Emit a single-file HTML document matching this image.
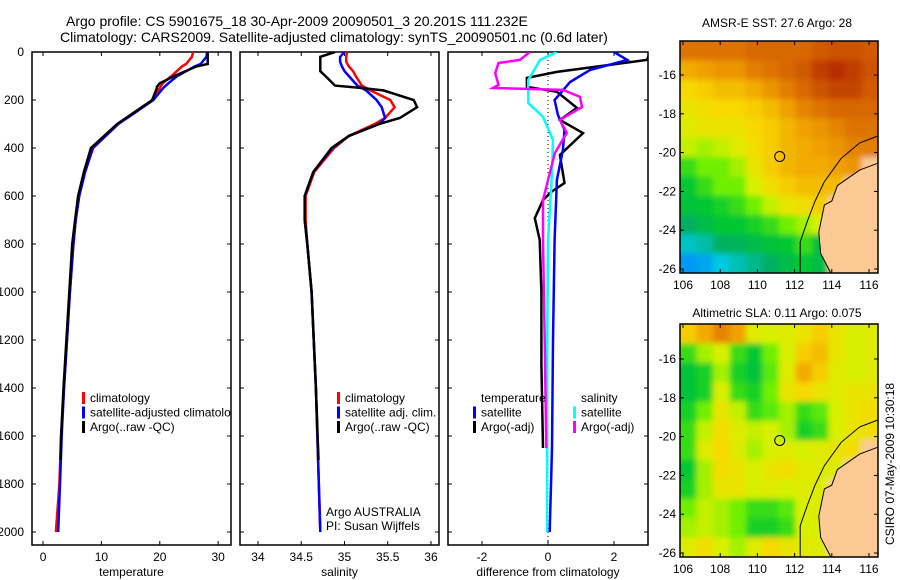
<!DOCTYPE html>
<html><head><meta charset="utf-8"><style>
body{margin:0;background:#fff;}
svg{display:block;font-family:"Liberation Sans",sans-serif;}
text{font-size:12px;fill:#000;}
</style></head><body>
<svg id="fig" width="900" height="580" viewBox="0 0 900 580" xmlns="http://www.w3.org/2000/svg">
<defs>
<clipPath id="c1"><rect x="32" y="52" width="199" height="493"/></clipPath>
<clipPath id="c2"><rect x="240" y="52" width="199" height="493"/></clipPath>
<clipPath id="c3"><rect x="448" y="52" width="200" height="493"/></clipPath>
<clipPath id="cm1"><rect x="680" y="41" width="198" height="232"/></clipPath>
<clipPath id="cm2"><rect x="680" y="324" width="198" height="233"/></clipPath>
<filter id="bl" x="-5%" y="-5%" width="110%" height="110%"><feGaussianBlur stdDeviation="3"/></filter>
</defs>
<text x="66" y="26" style="font-size:14px">Argo profile: CS 5901675_18 30-Apr-2009 20090501_3 20.201S 111.232E</text>
<text x="60" y="42" style="font-size:14px">Climatology: CARS2009. Satellite-adjusted climatology: synTS_20090501.nc (0.6d later)</text>
<text x="777" y="27" text-anchor="middle">AMSR-E SST: 27.6 Argo: 28</text>
<text x="777" y="317" text-anchor="middle">Altimetric SLA: 0.11 Argo: 0.075</text>
<text transform="translate(894,545) rotate(-90)">CSIRO 07-May-2009 10:30:18</text>
<g id="root"></g>
</svg>
<script>
// ---- profile data ----
const tDepth=[0,20,50,60,100,130,150,200,300,400,500,600,700,800,1000,1200,1400,1600,1800,2000];
const tClim=[25.7,25.5,24.5,23.8,22,20.5,20,18.9,12.9,8.6,7.2,6.2,5.6,5.2,4.6,4.1,3.6,3.1,2.8,2.2];
const tSat=[28.1,28,27,26,23,21.5,20.6,18.9,12.9,8.5,7.2,6.2,5.6,5.2,4.6,4.1,3.6,3.2,2.9,2.6];
const tArgoDepth=[0,40,50,60,100,130,145,150,200,300,400,500,600,700,800,1000,1200,1400,1600,1700];
const tArgo=[28.2,28.2,28.2,26.3,22.5,20,19.5,19.5,18.7,12.7,8.2,7,6,5.5,5.0,4.5,4.0,3.5,3.1,3.0];
const sDepth=[0,20,40,60,80,100,140,150,160,200,230,275,300,350,400,500,600,700,800,1000,1400,2000];
const sClim=[35.03,35.02,35.02,35.05,35.1,35.13,35.2,35.25,35.3,35.53,35.58,35.47,35.35,35.05,34.88,34.65,34.55,34.55,34.57,34.62,34.67,34.72];
const sSat=[35.0,34.95,34.95,34.97,35.0,35.05,35.15,35.2,35.25,35.37,35.43,35.47,35.4,35.05,34.86,34.64,34.54,34.54,34.57,34.62,34.67,34.72];
const sArgoDepth=[0,20,40,60,80,100,140,150,160,200,230,275,300,350,400,500,600,700,800,1000,1400,1700];
const sArgo=[34.89,34.72,34.72,34.72,34.72,34.78,34.89,35.2,35.45,35.8,35.84,35.64,35.4,35.05,34.85,34.64,34.54,34.54,34.57,34.62,34.67,34.7];
const dTaDepth=[0,33,83,108,145,166,233,283,338,429,546,583,617,692,783,1000,1300,1650];
const dTempArgo=[3.1,3.0,0.27,-0.64,-0.64,0.27,0.88,0.36,1.06,0.36,0.5,0.1,-0.15,-0.4,-0.25,-0.2,-0.2,-0.15];
const dTsDepth=[0,33,75,125,200,262,325,408,533,783,1200,1650,2000];
const dTempSat=[2.0,2.4,1.27,0.67,0.2,0.3,0.5,0.45,0.27,0.2,0.15,0.12,0.05];
const dSsDepth=[0,33,117,212,270,367,504,783,1200,2000];
const dSalSat=[0.27,-0.24,-0.6,-0.6,-0.15,0.15,0.12,0,-0.02,-0.03];
const dSaDepth=[0,33,46,88,137,150,158,187,229,283,337,421,617,783,1200,1650];
const dSalArgo=[-0.55,-0.85,-1.5,-1.6,-1.5,-1.67,0.45,0.97,1.03,0.36,0.57,0.21,-0.15,-0.15,-0.1,-0.05];
const depthTicks=[0,200,400,600,800,1000,1200,1400,1600,1800,2000];
const tTicks=[0,10,20,30];
const sTicks=[34,34.5,35,35.5,36];
const dTicks=[-2,0,2];
// ---- map data (rows north->south, cols west->east, 0..1 colour index, null=land) ----
const sstGrid=[
[0.88,0.88,0.88,0.88,0.9,0.9,0.9,0.9,0.92,0.93,0.93,0.92],
[0.78,0.8,0.82,0.82,0.86,0.88,0.9,0.92,0.96,0.98,0.96,0.93],
[0.7,0.72,0.75,0.75,0.78,0.82,0.86,0.9,0.93,0.95,0.95,0.92],
[0.65,0.68,0.7,0.7,0.72,0.75,0.8,0.85,0.88,0.9,0.9,0.9],
[0.62,0.65,0.66,0.66,0.7,0.72,0.76,0.8,0.82,0.85,0.88,0.88],
[0.58,0.55,0.58,0.62,0.68,0.72,0.76,0.78,0.8,0.82,0.85,0.86],
[0.45,0.5,0.5,0.55,0.65,0.72,0.76,0.78,0.78,0.8,0.82,null],
[0.4,0.45,0.5,0.5,0.6,0.68,0.72,0.75,0.75,0.75,null,null],
[0.38,0.4,0.42,0.45,0.5,0.58,0.65,0.68,0.72,null,null,null],
[0.3,0.35,0.4,0.4,0.42,0.45,0.5,0.55,0.6,null,null,null],
[0.18,0.22,0.3,0.32,0.35,0.38,0.4,0.45,0.38,null,null,null],
[0.05,0.08,0.15,0.2,0.25,0.3,0.35,0.4,0.35,null,null,null]];
const slaGrid=[
[0.72,0.78,0.85,0.8,0.62,0.6,0.62,0.65,0.72,0.65,0.6,0.62],
[0.45,0.55,0.6,0.45,0.4,0.5,0.6,0.72,0.75,0.65,0.6,0.62],
[0.38,0.42,0.55,0.42,0.38,0.48,0.62,0.78,0.72,0.62,0.6,0.62],
[0.38,0.42,0.6,0.45,0.42,0.5,0.65,0.7,0.65,0.62,0.65,0.65],
[0.42,0.5,0.65,0.58,0.45,0.48,0.55,0.45,0.48,0.6,0.65,0.68],
[0.45,0.58,0.68,0.62,0.58,0.6,0.55,0.42,0.45,0.6,0.65,0.68],
[0.45,0.62,0.7,0.62,0.55,0.6,0.62,0.6,0.62,0.65,0.68,null],
[0.4,0.55,0.68,0.65,0.6,0.65,0.68,0.62,0.62,0.62,null,null],
[0.42,0.55,0.65,0.65,0.6,0.62,0.6,0.62,0.62,null,null,null],
[0.5,0.58,0.55,0.5,0.45,0.45,0.48,0.6,0.62,null,null,null],
[0.55,0.58,0.55,0.5,0.42,0.42,0.45,0.6,0.6,null,null,null],
[0.62,0.68,0.6,0.55,0.62,0.7,0.65,0.62,0.62,null,null,null]];
const coastLon=[116.6,115.5,114.3,114.0,113.6,113.3,113.4,114.0];
const coastLat=[-20.5,-20.9,-21.7,-22.5,-22.7,-24.1,-25.2,-26.3];
const isoLon=[116.6,115.5,114.5,113.6,113.1,112.7,112.3,112.3];
const isoLat=[-19.1,-19.5,-20.3,-21.5,-22.5,-23.5,-24.6,-26.3];
const lonTicks=[106,108,110,112,114,116];
const latTicks=[-16,-18,-20,-22,-24,-26];
const floatLon=111.2, floatLat=-20.2;

const NS="http://www.w3.org/2000/svg";
const root=document.getElementById('root');
function mk(tag,attrs,parent){const e=document.createElementNS(NS,tag);for(const k in attrs)e.setAttribute(k,attrs[k]);(parent||root).appendChild(e);return e;}
const yD=d=>52+0.24*d;
const panels=[
 {x0:32,x1:231,vmin:-1.89,vmax:32.2,clip:'c1'},
 {x0:240,x1:439,vmin:33.792,vmax:36.093,clip:'c2'},
 {x0:448,x1:648,vmin:-3.03,vmax:3.03,clip:'c3'}];
panels.forEach(p=>p.sx=v=>p.x0+(v-p.vmin)/(p.vmax-p.vmin)*(p.x1-p.x0));

function line(p,depths,vals,color,name){
  const pts=depths.map((d,i)=>p.sx(vals[i]).toFixed(1)+','+yD(d).toFixed(1)).join(' ');
  const e=mk('polyline',{points:pts,fill:'none',stroke:color,'stroke-width':2.5,'clip-path':'url(#'+p.clip+')'});
  
  
}
function frame(p,ticks,labels,name,xlabel){
  const g=mk('g',{});
  
  
  mk('rect',{x:p.x0,y:52,width:p.x1-p.x0,height:493,fill:'none',stroke:'#000','stroke-width':1.5},g);
  depthTicks.forEach(d=>{
    mk('line',{x1:p.x0,x2:p.x0+4,y1:yD(d),y2:yD(d),stroke:'#000'},g);
    mk('line',{x1:p.x1-4,x2:p.x1,y1:yD(d),y2:yD(d),stroke:'#000'},g);
  });
  ticks.forEach(t=>{
    const x=p.sx(t);
    mk('line',{x1:x,x2:x,y1:52,y2:56,stroke:'#000'},g);
    mk('line',{x1:x,x2:x,y1:541,y2:545,stroke:'#000'},g);
    const tx=mk('text',{x:x,y:561,'text-anchor':'middle'},g);tx.textContent=String(t);
    
    
  });
  const xl=mk('text',{x:(p.x0+p.x1)/2,y:576,'text-anchor':'middle'},g);xl.textContent=xlabel;
  
  
}
frame(panels[0],tTicks,true,'temperature-panel','temperature');
frame(panels[1],sTicks,true,'salinity-panel','salinity');
frame(panels[2],dTicks,true,'difference-panel','difference from climatology');
depthTicks.forEach(d=>{
  const t=mk('text',{x:24,y:yD(d)+4,'text-anchor':'end'});t.textContent=String(d);
  
  
});
const zl=mk('line',{x1:panels[2].sx(0),x2:panels[2].sx(0),y1:52,y2:545,stroke:'#000','stroke-dasharray':'1,3'});



line(panels[0],tDepth,tClim,'#f00','temp-climatology-line');
line(panels[0],tDepth,tSat,'#00f','temp-satellite-line');
line(panels[0],tArgoDepth,tArgo,'#000','temp-argo-line');
line(panels[1],sDepth,sClim,'#f00','sal-climatology-line');
line(panels[1],sDepth,sSat,'#00f','sal-satellite-line');
line(panels[1],sArgoDepth,sArgo,'#000','sal-argo-line');
line(panels[2],dTaDepth,dTempArgo,'#000','diff-temp-argo-line');
line(panels[2],dTsDepth,dTempSat,'#00f','diff-temp-satellite-line');
line(panels[2],dSsDepth,dSalSat,'#0ff','diff-sal-satellite-line');
line(panels[2],dSaDepth,dSalArgo,'#f0f','diff-sal-argo-line');

function legend(items,mx,y0,clip,name){
  const g=mk('g',clip?{'clip-path':'url(#'+clip+')'}:{});
  
  
  items.forEach((it,i)=>{
    const y=y0+i*14.5;
    if(it[1]) mk('rect',{x:mx,y:y-10,width:3,height:12,fill:it[1]},g);
    const t=mk('text',{x:mx+(it[2]||8),y:y},g);t.textContent=it[0];
  });
}
legend([['climatology','#f00'],['satellite-adjusted climatology','#00f'],['Argo(..raw -QC)','#000']],82,402,'c1','temp-legend');
legend([['climatology','#f00'],['satellite adj. clim.','#00f'],['Argo(..raw -QC)','#000']],337,402,null,'sal-legend');
legend([['temperature',null],['satellite','#00f'],['Argo(-adj)','#000']],473,402,null,'diff-temp-legend');
legend([['salinity',null],['satellite','#0ff'],['Argo(-adj)','#f0f']],573,402,null,'diff-sal-legend');
const a1=mk('text',{x:326,y:516});a1.textContent='Argo AUSTRALIA';

const a2=mk('text',{x:326,y:530});a2.textContent='PI: Susan Wijffels';


// ---- maps ----
const stops=[[0,[0,128,255]],[0.15,[0,200,224]],[0.3,[0,176,96]],[0.4,[0,200,48]],[0.5,[112,240,0]],[0.6,[216,240,0]],[0.7,[248,216,0]],[0.8,[240,160,0]],[0.9,[216,104,0]],[1,[176,32,0]]];
function cmap(v){
  if(v===null) return '#fbc994';
  for(let i=1;i<stops.length;i++){ if(v<=stops[i][0]){const a=stops[i-1],b=stops[i];const f=(v-a[0])/(b[0]-a[0]);
    return 'rgb('+a[1].map((c,k)=>Math.round(c+f*(b[1][k]-c))).join(',')+')';}}
  return 'rgb(176,32,0)';
}
function drawMap(grid,top,bot,lat16y,clip,name){
  const g=mk('g',{});
  
  
  const sx=lon=>683+18.6*(lon-106);
  const sy=lat=>lat16y+19.4*(-16-lat);
  const lonL=105.84,lonR=116.48,latB=-16-(bot-lat16y)/19.4;
  const latTop=-16+(lat16y-top)/19.4;
  const nR=grid.length,nC=grid[0].length;
  const cells=mk('g',{'clip-path':'url(#'+clip+')'},g);
  const inner=mk('g',{filter:'url(#bl)'},cells);
  grid.forEach((row,r)=>row.forEach((v,c)=>{
    const lo0=lonL+(lonR-lonL)*c/nC,lo1=lonL+(lonR-lonL)*(c+1)/nC;
    const la0=latTop+(latB-latTop)*r/nR,la1=latTop+(latB-latTop)*(r+1)/nR;
    const cell=mk('rect',{x:sx(lo0)-(c==0?8:0),y:sy(la0)-(r==0?8:0),width:sx(lo1)-sx(lo0)+(c==0||c==nC-1?8:0)+0.6,height:sy(la1)-sy(la0)+(r==0||r==nR-1?8:0)+0.6,fill:cmap(v)},inner);
    
    
  }));
  const lpts=coastLon.map((lo,i)=>sx(lo)+','+sy(coastLat[i]));
  const land=mk('polygon',{points:lpts.join(' ')+' '+sx(117)+','+sy(-26.5)+' '+sx(117)+','+sy(-20.5),fill:'#fbc994',stroke:'#000','stroke-width':1},cells);
  
  
  const iso=mk('polyline',{points:isoLon.map((lo,i)=>sx(lo)+','+sy(isoLat[i])).join(' '),fill:'none',stroke:'#000','stroke-width':1},cells);
  
  
  const fc=mk('circle',{cx:sx(floatLon),cy:sy(floatLat),r:5,fill:'none',stroke:'#000','stroke-width':1},g);
  
  
  mk('rect',{x:680,y:top,width:198,height:bot-top,fill:'none',stroke:'#000','stroke-width':1.5},g);
  lonTicks.forEach(lo=>{const x=sx(lo);
    mk('line',{x1:x,x2:x,y1:top,y2:top+4,stroke:'#000'},g);mk('line',{x1:x,x2:x,y1:bot-4,y2:bot,stroke:'#000'},g);
    const t=mk('text',{x:x,y:bot+16,'text-anchor':'middle'},g);t.textContent=String(lo);
    });
  latTicks.forEach(la=>{const y=sy(la);
    mk('line',{x1:680,x2:684,y1:y,y2:y,stroke:'#000'},g);mk('line',{x1:874,x2:878,y1:y,y2:y,stroke:'#000'},g);
    const t=mk('text',{x:676,y:y+4,'text-anchor':'end'},g);t.textContent=String(la);
    });
}
drawMap(sstGrid,41,273,75,'cm1','sst-map');
drawMap(slaGrid,324,557,359,'cm2','sla-map');
</script>
</body></html>
